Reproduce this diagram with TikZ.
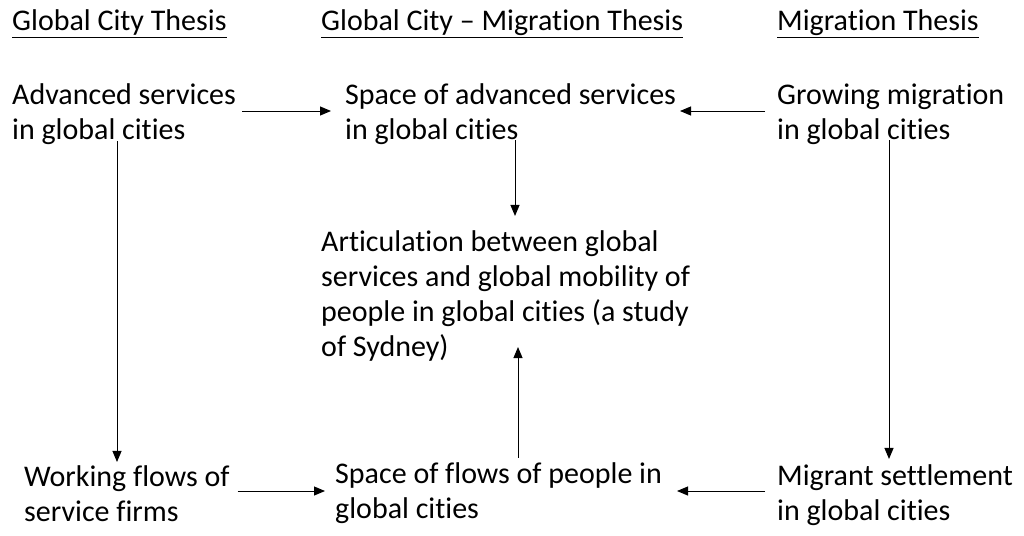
\documentclass[tikz,border=0pt]{standalone}
\usepackage{fontspec}
\setmainfont{Carlito}[Ligatures={NoCommon}]
\usetikzlibrary{arrows.meta}
\begin{document}
\begin{tikzpicture}[x=1pt,y=-1pt,
  txt/.style={anchor=base west,align=left,inner sep=0pt,font=\fontsize{30}{35}\selectfont},
  head/.style={txt},
  arr/.style={line width=1pt,-{Triangle[length=11pt,width=9pt]}}]
\useasboundingbox[fill=white] (0,0) rectangle (1024,535);
\node[head] (h1) at (12,31) {\underline{Global City Thesis}};
\node[head] (h2) at (321,31) {\underline{Global City – Migration Thesis}};
\node[head] (h3) at (777,31) {\underline{Migration Thesis}};
\node[txt] (a1) at (12,139) {Advanced services\\in global cities};
\node[txt] (a2) at (345,139) {Space of advanced services\\in global cities};
\node[txt] (a3) at (777,139) {Growing migration\\in global cities};
\node[txt] (c) at (321,356) {Articulation between global\\services and global mobility of\\people in global cities (a study\\of Sydney)};
\node[txt] (b1) at (24,521) {Working flows of\\service firms};
\node[txt] (b2) at (335,518) {Space of flows of people in\\global cities};
\node[txt] (b3) at (777,520) {Migrant settlement\\in global cities};
% connectors
\coordinate (pA) at (0,111);
\coordinate (pB) at (0,491);
\draw[arr] (a1.east |- pA) ++(6,0) -- ([xshift=-14pt]a2.west |- pA);
\draw[arr] (a3.west |- pA) ++(-12,0) -- ([xshift=680-345]a2.west |- pA);
\draw[arr] ([xshift=515-345]a2.south west) ++(0,-4) -- ([xshift=515-321,yshift=14pt]c.north west);
\draw[arr] ([xshift=117-12]a1.south west) ++(0,-3) -- ([xshift=117-24,yshift=3pt]b1.north west);
\draw[arr] ([xshift=889-777]a3.south west) ++(0,-4) -- ([xshift=889-777,yshift=5pt]b3.north west);
\draw[arr] (b1.east |- pB) ++(8,0) -- ([xshift=-10pt]b2.west |- pB);
\draw[arr] (b3.west |- pB) ++(-12,0) -- ([xshift=677-335]b2.west |- pB);
\draw[arr] ([xshift=518-335,yshift=4pt]b2.north west) -- ([xshift=518-321,yshift=14pt]c.south west);
\end{tikzpicture}
\end{document}
